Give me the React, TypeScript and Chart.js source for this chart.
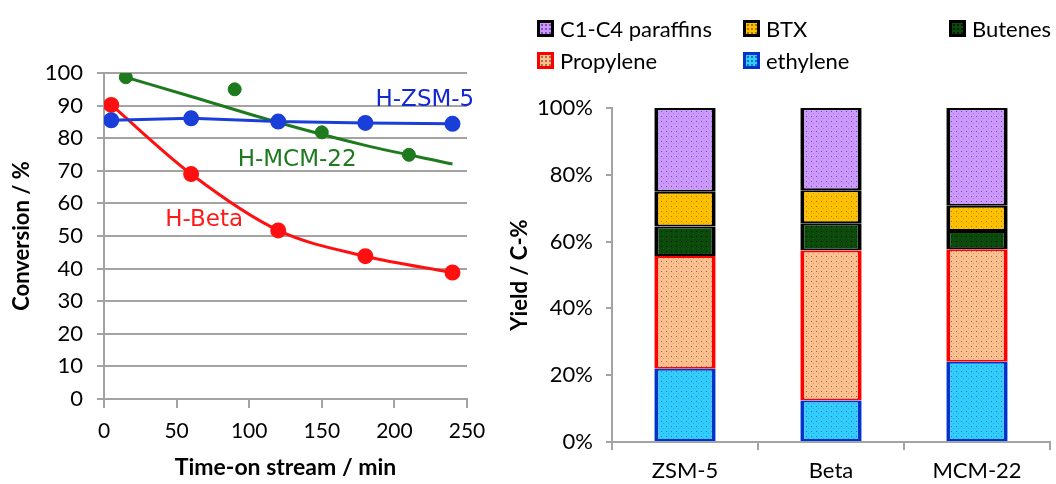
import React, { useEffect, useRef } from "react";
import { Chart, registerables } from "chart.js";

Chart.register(...registerables);

// ---------- Left panel: conversion vs time-on-stream ----------
const timeZSM5 = [5, 60, 120, 180, 240];
const convZSM5 = [85.5, 86.1, 85.1, 84.7, 84.4];

const timeBeta = [5, 60, 120, 180, 240];
const convBeta = [90.2, 69.0, 51.7, 43.8, 38.8];

const timeMCM22 = [15, 90, 150, 210];
const convMCM22 = [98.7, 95.0, 81.8, 74.9];

// trend line drawn through the H-MCM-22 data
const trendTimeMCM22 = [15, 60, 120, 180, 240];
const trendConvMCM22 = [98.7, 92.8, 84.8, 77.8, 72.1];

const seriesNames = ["H-ZSM-5", "H-MCM-22", "H-Beta"];

const xTicksLeft = [0, 50, 100, 150, 200, 250];
const yTicksLeft = [0, 10, 20, 30, 40, 50, 60, 70, 80, 90, 100];

// ---------- Right panel: product yields ----------
const catalysts = ["ZSM-5", "Beta", "MCM-22"];
const ethylene = [21.9, 12.4, 24.0];
const propylene = [33.8, 44.9, 33.7];
const butenes = [8.8, 8.2, 5.5];
const btx = [10.4, 9.9, 7.5];
const paraffins = [25.1, 24.6, 29.3];
const yTicksRight = [0, 20, 40, 60, 80, 100];

const TICK_FONT = "Lato, 'Open Sans', sans-serif";

function makePattern(base: string, dot: string, dot2: string): CanvasPattern | string {
  const c = document.createElement("canvas");
  c.width = 5;
  c.height = 5;
  const g = c.getContext("2d");
  if (!g) return base;
  g.fillStyle = base;
  g.fillRect(0, 0, 5, 5);
  g.fillStyle = dot;
  g.fillRect(1, 1, 1, 1);
  g.fillStyle = dot2;
  g.fillRect(3, 3, 1, 1);
  const p = g.createPattern(c, "repeat");
  return p || base;
}

const legendItems = [
  { label: "C1-C4 paraffins", fill: "#CC99FF", border: "#000000", dot: "rgba(80,30,130,0.6)", col: 0, row: 0 },
  { label: "BTX", fill: "#FFC000", border: "#000000", dot: "rgba(110,70,0,0.6)", col: 1, row: 0 },
  { label: "Butenes", fill: "#0B4A0B", border: "#000000", dot: "rgba(0,20,0,0.8)", col: 2, row: 0 },
  { label: "Propylene", fill: "#FAC090", border: "#FF0000", dot: "rgba(120,60,30,0.6)", col: 0, row: 1 },
  { label: "ethylene", fill: "#33CCFF", border: "#0033CC", dot: "rgba(10,70,120,0.6)", col: 1, row: 1 },
];

export default function App() {
  const leftRef = useRef<HTMLCanvasElement>(null);
  const rightRef = useRef<HTMLCanvasElement>(null);

  useEffect(() => {
    if (!leftRef.current || !rightRef.current) return;

    const gridGrey = "#A3A3A3";

    const labelPlugin = {
      id: "seriesLabels",
      afterDatasetsDraw(chart: any) {
        const { ctx, scales } = chart;
        const anchors = [
          { text: seriesNames[0], x: 221, y: 91.7, color: "#1428D0" },
          { text: seriesNames[1], x: 133, y: 73.3, color: "#1E7A1E" },
          { text: seriesNames[2], x: 69, y: 54.9, color: "#FF1A1A" },
        ];
        ctx.save();
        ctx.font = "23px 'DejaVu Sans', sans-serif";
        ctx.textAlign = "center";
        ctx.textBaseline = "middle";
        anchors.forEach((a) => {
          ctx.fillStyle = a.color;
          ctx.fillText(a.text, scales.x.getPixelForValue(a.x), scales.y.getPixelForValue(a.y));
        });
        ctx.restore();
      },
    };

    const left = new Chart(leftRef.current, {
      type: "line",
      data: {
        datasets: [
          {
            label: seriesNames[0],
            data: timeZSM5.map((t, i) => ({ x: t, y: convZSM5[i] })),
            borderColor: "#1A3FD9",
            backgroundColor: "#1A3FD9",
            pointBackgroundColor: "#1A3FD9",
            pointBorderColor: "#1A3FD9",
            pointRadius: 6.5,
            borderWidth: 3,
            tension: 0,
          },
          {
            label: seriesNames[1] + " trend",
            data: trendTimeMCM22.map((t, i) => ({ x: t, y: trendConvMCM22[i] })),
            borderColor: "#1E7A1E",
            pointRadius: 0,
            borderWidth: 3,
            cubicInterpolationMode: "monotone",
          },
          {
            label: seriesNames[1],
            data: timeMCM22.map((t, i) => ({ x: t, y: convMCM22[i] })),
            showLine: false,
            borderColor: "#1E7A1E",
            backgroundColor: "#1E7A1E",
            pointBackgroundColor: "#1E7A1E",
            pointBorderColor: "#1E7A1E",
            pointRadius: 6.5,
          },
          {
            label: seriesNames[2],
            data: timeBeta.map((t, i) => ({ x: t, y: convBeta[i] })),
            borderColor: "#FF1010",
            backgroundColor: "#FF1010",
            pointBackgroundColor: "#FF1010",
            pointBorderColor: "#FF1010",
            pointRadius: 6.5,
            borderWidth: 3,
            cubicInterpolationMode: "monotone",
          },
        ],
      } as any,
      options: {
        animation: false,
        responsive: false,
        devicePixelRatio: 1,
        layout: { padding: { left: 0, right: 33, top: 73, bottom: 0 } },
        plugins: { legend: { display: false }, tooltip: { enabled: false } },
        scales: {
          x: {
            type: "linear",
            min: 0,
            max: 250,
            afterBuildTicks: (s: any) => {
              s.ticks = xTicksLeft.map((v) => ({ value: v }));
            },
            afterFit: (s: any) => {
              s.height = 85;
            },
            ticks: {
              color: "#000",
              font: { family: TICK_FONT, size: 21 },
              padding: 11,
              maxRotation: 0,
            },
            grid: { drawOnChartArea: false, color: gridGrey, lineWidth: 2, tickLength: 9 },
            border: { color: gridGrey, width: 2 },
            title: {
              display: true,
              text: "Time-on stream / min",
              color: "#000",
              font: { family: TICK_FONT, size: 23, weight: "bold" },
              padding: { top: 0, bottom: 3 },
            },
          },
          y: {
            type: "linear",
            min: 0,
            max: 100,
            afterBuildTicks: (s: any) => {
              s.ticks = yTicksLeft.map((v) => ({ value: v }));
            },
            afterFit: (s: any) => {
              s.width = 104;
            },
            ticks: {
              color: "#000",
              font: { family: TICK_FONT, size: 22 },
              padding: 14,
            },
            grid: { color: gridGrey, lineWidth: 2, tickLength: 7 },
            border: { color: gridGrey, width: 2 },
            title: {
              display: true,
              text: "Conversion / %",
              color: "#000",
              font: { family: TICK_FONT, size: 22, weight: "bold" },
              padding: { top: 9, bottom: 0 },
            },
          },
        },
      } as any,
      plugins: [labelPlugin],
    });

    const bar = (label: string, data: number[], base: string, dot: string, dot2: string, border: string) => ({
      label,
      data,
      backgroundColor: makePattern(base, dot, dot2),
      borderColor: border,
      borderWidth: { left: 4, right: 4, top: 2, bottom: 2 },
      borderSkipped: false,
      inflateAmount: 0,
      barPercentage: 0.42,
      categoryPercentage: 1,
    });

    const right = new Chart(rightRef.current, {
      type: "bar",
      data: {
        labels: catalysts,
        datasets: [
          bar("ethylene", ethylene, "#33CCFF", "rgba(10,60,120,0.55)", "rgba(10,60,120,0.25)", "#0033CC"),
          bar("Propylene", propylene, "#FAC090", "rgba(90,40,20,0.6)", "rgba(160,80,50,0.35)", "#FF0000"),
          bar("Butenes", butenes, "#0B4A0B", "rgba(0,15,0,0.8)", "rgba(30,110,30,0.6)", "#000000"),
          bar("BTX", btx, "#FFC000", "rgba(110,70,0,0.6)", "rgba(150,100,0,0.35)", "#000000"),
          bar("C1-C4 paraffins", paraffins, "#CC99FF", "rgba(70,20,110,0.6)", "rgba(120,70,170,0.35)", "#000000"),
        ],
      } as any,
      options: {
        animation: false,
        responsive: false,
        devicePixelRatio: 1,
        layout: { padding: { left: 0, right: 6, top: 108, bottom: 0 } },
        plugins: { legend: { display: false }, tooltip: { enabled: false } },
        scales: {
          x: {
            stacked: true,
            afterFit: (s: any) => {
              s.height = 42;
            },
            ticks: {
              color: "#000",
              font: { family: TICK_FONT, size: 22 },
              padding: 8,
              maxRotation: 0,
            },
            grid: { drawOnChartArea: false, offset: true, color: gridGrey, lineWidth: 2, tickLength: 8 },
            border: { color: gridGrey, width: 2 },
          },
          y: {
            stacked: true,
            min: 0,
            max: 100,
            afterBuildTicks: (s: any) => {
              s.ticks = yTicksRight.map((v) => ({ value: v }));
            },
            afterFit: (s: any) => {
              s.width = 112;
            },
            ticks: {
              color: "#000",
              font: { family: TICK_FONT, size: 22 },
              padding: 13,
              callback: (v: any) => v + "%",
            },
            grid: { drawOnChartArea: false, color: gridGrey, lineWidth: 2, tickLength: 6 },
            border: { color: gridGrey, width: 2 },
            title: {
              display: true,
              text: "Yield / C-%",
              color: "#000",
              font: { family: TICK_FONT, size: 22, weight: "bold" },
              padding: { top: 7, bottom: 0 },
            },
          },
        },
      } as any,
    });

    return () => {
      left.destroy();
      right.destroy();
    };
  }, []);

  const colX = [537, 743, 949];
  const rowY = [28, 60];

  return (
    <div style={{ position: "absolute", left: 0, top: 0, width: 1056, height: 484, background: "#fff", overflow: "hidden" }}>
      <canvas ref={leftRef} width={500} height={484} style={{ position: "absolute", left: 0, top: 0, width: 500, height: 484 }} />
      <canvas ref={rightRef} width={556} height={484} style={{ position: "absolute", left: 500, top: 0, width: 556, height: 484 }} />
      {legendItems.map((it) => (
        <div
          key={it.label}
          style={{
            position: "absolute",
            left: colX[it.col],
            top: rowY[it.row] - 15,
            height: 30,
            display: "flex",
            alignItems: "center",
            fontFamily: TICK_FONT,
            fontSize: 22,
            color: "#000",
            whiteSpace: "nowrap",
          }}
        >
          <span
            style={{
              display: "inline-block",
              boxSizing: "border-box",
              width: 17,
              height: 17,
              border: `3px solid ${it.border}`,
              backgroundColor: it.fill,
              backgroundImage: `radial-gradient(circle, ${it.dot} 0.8px, transparent 1px)`,
              backgroundSize: "4px 4px",
              marginRight: 6,
            }}
          />
          <span>{it.label}</span>
        </div>
      ))}
    </div>
  );
}
